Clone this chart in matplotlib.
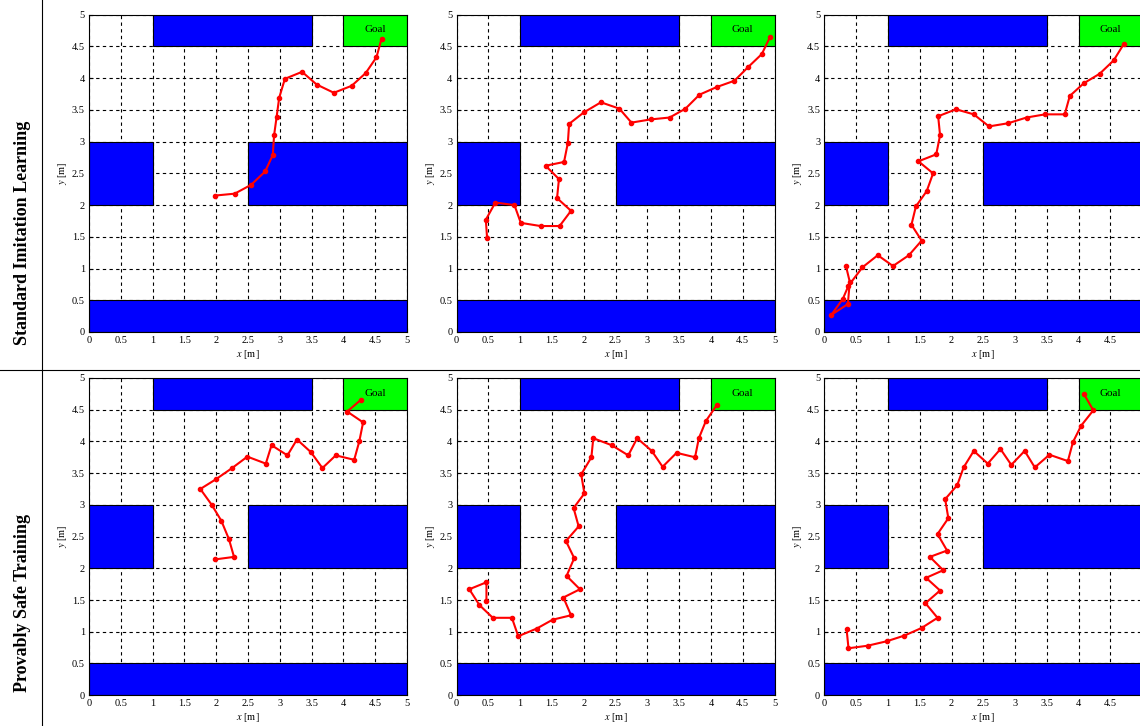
import matplotlib.pyplot as plt
from matplotlib.patches import Rectangle
from matplotlib.lines import Line2D

plt.rcParams['font.family'] = ['Liberation Serif', 'DejaVu Serif']
plt.rcParams['mathtext.fontset'] = 'stix'

# obstacles: (x, y, w, h)
obstaculos = [(1.0, 4.5, 2.5, 0.5), (0.0, 2.0, 1.0, 1.0),
              (2.5, 2.0, 2.5, 1.0), (0.0, 0.0, 5.0, 0.5)]
meta = (4.0, 4.5, 1.0, 0.5)

linhas = ['Standard Imitation Learning', 'Provably Safe Training']

# trajectories, row 1 (standard imitation learning)
x_sil_1 = [1.98, 2.29, 2.55, 2.77, 2.89, 2.91, 2.95, 2.99, 3.08, 3.35, 3.58, 3.85, 4.13, 4.35, 4.52, 4.60]
y_sil_1 = [2.15, 2.18, 2.32, 2.53, 2.79, 3.10, 3.39, 3.69, 3.99, 4.10, 3.90, 3.77, 3.88, 4.08, 4.33, 4.62]

x_sil_2 = [0.48, 0.46, 0.61, 0.91, 1.01, 1.32, 1.62, 1.80, 1.58, 1.61, 1.40, 1.69, 1.75, 1.77,
           2.00, 2.27, 2.56, 2.75, 3.05, 3.35, 3.60, 3.82, 4.09, 4.37, 4.58, 4.80, 4.93]
y_sil_2 = [1.48, 1.77, 2.04, 2.00, 1.72, 1.67, 1.67, 1.91, 2.11, 2.41, 2.62, 2.68, 2.98, 3.28,
           3.46, 3.62, 3.52, 3.30, 3.35, 3.38, 3.52, 3.74, 3.86, 3.96, 4.17, 4.38, 4.65]

x_sil_3 = [0.34, 0.40, 0.37, 0.11, 0.29, 0.38, 0.60, 0.84, 1.08, 1.33, 1.53, 1.37, 1.44, 1.61,
           1.71, 1.48, 1.76, 1.82, 1.79, 2.07, 2.35, 2.59, 2.89, 3.18, 3.47, 3.78, 3.86, 4.08,
           4.33, 4.55, 4.71]
y_sil_3 = [1.04, 0.79, 0.44, 0.27, 0.52, 0.73, 1.02, 1.21, 1.04, 1.21, 1.44, 1.69, 1.98, 2.22,
           2.50, 2.69, 2.80, 3.10, 3.40, 3.51, 3.43, 3.24, 3.29, 3.38, 3.43, 3.43, 3.72, 3.92,
           4.07, 4.28, 4.54]

# trajectories, row 2 (provably safe training)
x_pst_1 = [1.98, 2.28, 2.20, 2.08, 1.93, 1.75, 1.99, 2.25, 2.49, 2.78, 2.87, 3.12, 3.27, 3.49,
           3.67, 3.88, 4.17, 4.25, 4.31, 4.06, 4.28]
y_pst_1 = [2.14, 2.18, 2.46, 2.75, 3.00, 3.25, 3.40, 3.58, 3.76, 3.65, 3.94, 3.78, 4.03, 3.83,
           3.58, 3.78, 3.71, 4.00, 4.30, 4.47, 4.66]

x_pst_2 = [0.47, 0.47, 0.20, 0.36, 0.57, 0.87, 0.97, 1.26, 1.51, 1.80, 1.68, 1.94, 1.73, 1.85,
           1.72, 1.92, 1.84, 2.01, 1.96, 2.12, 2.15, 2.44, 2.70, 2.84, 3.07, 3.24, 3.46, 3.75,
           3.81, 3.92, 4.09]
y_pst_2 = [1.48, 1.78, 1.67, 1.42, 1.22, 1.22, 0.93, 1.05, 1.19, 1.26, 1.54, 1.67, 1.88, 2.16,
           2.43, 2.66, 2.95, 3.18, 3.48, 3.75, 4.05, 3.94, 3.78, 4.05, 3.85, 3.60, 3.82, 3.75,
           4.05, 4.32, 4.57]

x_pst_3 = [0.35, 0.38, 0.68, 0.98, 1.26, 1.53, 1.78, 1.59, 1.82, 1.60, 1.87, 1.66, 1.93, 1.78,
           1.95, 1.90, 2.09, 2.19, 2.35, 2.57, 2.77, 2.94, 3.15, 3.31, 3.54, 3.83, 3.91, 4.04,
           4.23, 4.08]
y_pst_3 = [1.04, 0.74, 0.78, 0.85, 0.94, 1.06, 1.22, 1.45, 1.65, 1.85, 1.97, 2.18, 2.28, 2.54,
           2.79, 3.09, 3.31, 3.59, 3.85, 3.65, 3.88, 3.63, 3.85, 3.59, 3.79, 3.69, 3.99, 4.25,
           4.49, 4.75]

trajetorias = [[(x_sil_1, y_sil_1), (x_sil_2, y_sil_2), (x_sil_3, y_sil_3)],
               [(x_pst_1, y_pst_1), (x_pst_2, y_pst_2), (x_pst_3, y_pst_3)]]

ticks = [0, 0.5, 1, 1.5, 2, 2.5, 3, 3.5, 4, 4.5, 5]
tick_labels = ['0', '0.5', '1', '1.5', '2', '2.5', '3', '3.5', '4', '4.5', '5']

fig = plt.figure(figsize=(11.4, 7.26), dpi=100)

esquerdas = [0.0781, 0.4005, 0.7231]
baixos = [0.5427, 0.0424]
largura, altura = 0.2789, 0.437

for i in range(2):
    for j in range(3):
        ax = fig.add_axes([esquerdas[j], baixos[i], largura, altura])
        ax.set_xlim(0, 5)
        ax.set_ylim(0, 5)
        ax.set_axisbelow(True)
        ax.grid(True, color='black', linestyle=(0, (3, 3)), linewidth=0.8)

        for (x0, y0, w, h) in obstaculos:
            ax.add_patch(Rectangle((x0, y0), w, h, facecolor='#0000ff',
                                   edgecolor='black', linewidth=0.8, zorder=1))
        ax.add_patch(Rectangle(meta[:2], meta[2], meta[3], facecolor='#00ff00',
                               edgecolor='black', linewidth=0.8, zorder=1))
        ax.text(4.5, 4.76, 'Goal', ha='center', va='center', fontsize=8, zorder=2)

        xs, ys = trajetorias[i][j]
        ax.plot(xs, ys, color='red', linewidth=1.5, marker='o', markersize=3, zorder=3)

        ax.set_xticks(ticks)
        ax.set_xticklabels(tick_labels)
        ax.set_yticks(ticks)
        ax.set_yticklabels(tick_labels)
        ax.tick_params(direction='in', length=3, labelsize=7.5, pad=3)
        ax.set_xlabel(r'$x$ [m]', fontsize=7.5, labelpad=2)
        ax.set_ylabel(r'$y$ [m]', fontsize=7.5, labelpad=2)
        for s in ax.spines.values():
            s.set_linewidth(0.8)

# row labels and separator lines
fig.text(0.0193, 1 - 233 / 726, linhas[0], rotation=90, ha='center', va='center',
         fontsize=13, fontweight='bold')
fig.text(0.0193, 1 - 603 / 726, linhas[1], rotation=90, ha='center', va='center',
         fontsize=13, fontweight='bold')
fig.add_artist(Line2D([42 / 1140, 42 / 1140], [0, 1], color='black', linewidth=0.8))
fig.add_artist(Line2D([0, 1], [1 - 370 / 726, 1 - 370 / 726], color='black', linewidth=0.8))

plt.savefig('out.png', dpi=100)
